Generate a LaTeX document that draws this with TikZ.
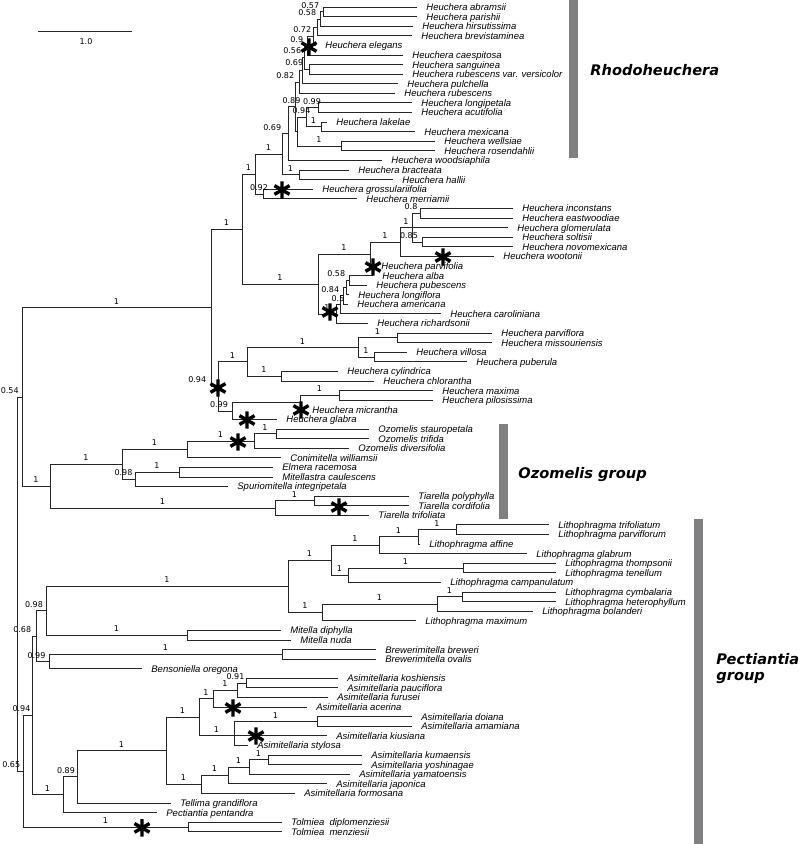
\documentclass[tikz,border=0pt]{standalone}
\usepackage{fontspec}
\setmainfont{Liberation Sans}
\newfontfamily\numfont{DejaVu Sans}[BoldFont={DejaVu Sans Bold}, ItalicFont={DejaVu Sans Oblique}, BoldItalicFont={DejaVu Sans Bold Oblique}]
\usetikzlibrary{calc}
\definecolor{bargray}{RGB}{128,128,130}
\newcommand\clade[4]{%
  \coordinate (cx) at (#2,0);
  \coordinate (cy) at ($(#3)!.5!(#4)$);
  \coordinate (#1) at (cx |- cy);}
\newcommand\leaf[4]{\node[leaf] (#1) at (#2,#3) {#4};}
\def\aster(#1){\draw[line width=3.4pt, black] (#1) ++(90:8.7pt) -- ++(270:17.4pt) (#1) ++(30:8.7pt) -- ++(210:17.4pt) (#1) ++(150:8.7pt) -- ++(330:17.4pt);}
\tikzset{
  leaf/.style={anchor=west, inner xsep=9pt, inner ysep=0pt, text height=0.95em, text depth=0.25em, font=\fontsize{9.5}{10}\selectfont\itshape},
  bs/.style={pos=.75, above, inner xsep=0.5pt, inner ysep=3pt, font=\numfont\fontsize{8}{9}\selectfont},
  bsl/.style={bs, pos=.5, anchor=south east},
  grp/.style={anchor=base west, inner sep=0pt, font=\numfont\fontsize{14.6}{17}\selectfont\bfseries\itshape}
}
\begin{document}
\begin{tikzpicture}[x=1pt, y=-9.59pt, shift={(0pt,-7pt)}, line width=0.8pt, draw=black!85]
\useasboundingbox (0,-0.73) rectangle (800,87.28);

%%%%% LEAVES %%%%%
\leaf{abramsii}{417}{0}{Heuchera abramsii}
\leaf{parishii}{417}{1}{Heuchera parishii}
\leaf{hirsutissima}{413}{2}{Heuchera hirsutissima}
\leaf{brevistaminea}{412}{3}{Heuchera brevistaminea}
\leaf{elegans}{316}{4}{Heuchera elegans}
\leaf{caespitosa}{403}{5}{Heuchera caespitosa}
\leaf{sanguinea}{403}{6}{Heuchera sanguinea}
\leaf{rubvar}{403}{7}{Heuchera rubescens var. versicolor}
\leaf{pulchella}{398}{8}{Heuchera pulchella}
\leaf{rubescens}{395}{9}{Heuchera rubescens}
\leaf{longipetala}{412}{10}{Heuchera longipetala}
\leaf{acutifolia}{412}{11}{Heuchera acutifolia}
\leaf{lakelae}{327}{12}{Heuchera lakelae}
\leaf{mexicana}{415}{13}{Heuchera mexicana}
\leaf{wellsiae}{435}{14}{Heuchera wellsiae}
\leaf{rosendahlii}{435}{15}{Heuchera rosendahlii}
\leaf{woodsiaphila}{382}{16}{Heuchera woodsiaphila}
\leaf{bracteata}{349}{17}{Heuchera bracteata}
\leaf{hallii}{393}{18}{Heuchera hallii}
\leaf{grossulariifolia}{313}{19}{Heuchera grossulariifolia}
\leaf{merriamii}{357}{20}{Heuchera merriamii}
\leaf{inconstans}{513}{21}{Heuchera inconstans}
\leaf{eastwoodiae}{513}{22}{Heuchera eastwoodiae}
\leaf{glomerulata}{508}{23}{Heuchera glomerulata}
\leaf{soltisii}{513}{24}{Heuchera soltisii}
\leaf{novomexicana}{513}{25}{Heuchera novomexicana}
\leaf{wootonii}{494}{26}{Heuchera wootonii}
\leaf{parvifolia}{372}{27}{Heuchera parvifolia}
\leaf{alba}{373}{28}{Heuchera alba}
\leaf{pubescens}{367}{29}{Heuchera pubescens}
\leaf{longiflora}{349}{30}{Heuchera longiflora}
\leaf{americana}{348}{31}{Heuchera americana}
\leaf{caroliniana}{441}{32}{Heuchera caroliniana}
\leaf{richardsonii}{368}{33}{Heuchera richardsonii}
\leaf{parviflora}{492}{34}{Heuchera parviflora}
\leaf{missouriensis}{492}{35}{Heuchera missouriensis}
\leaf{villosa}{407}{36}{Heuchera villosa}
\leaf{puberula}{467}{37}{Heuchera puberula}
\leaf{cylindrica}{338}{38}{Heuchera cylindrica}
\leaf{chlorantha}{374}{39}{Heuchera chlorantha}
\leaf{maxima}{433}{40}{Heuchera maxima}
\leaf{pilosissima}{433}{41}{Heuchera pilosissima}
\leaf{micrantha}{303}{42}{Heuchera micrantha}
\leaf{glabra}{277}{43}{Heuchera glabra}
\leaf{stauropetala}{369}{44}{Ozomelis stauropetala}
\leaf{trifida}{369}{45}{Ozomelis trifida}
\leaf{diversifolia}{349}{46}{Ozomelis diversifolia}
\leaf{conimitella}{281}{47}{Conimitella williamsii}
\leaf{elmera}{273}{48}{Elmera racemosa}
\leaf{mitellastra}{273}{49}{Mitellastra caulescens}
\leaf{spuriomitella}{228}{50}{Spuriomitella integripetala}
\leaf{polyphylla}{409}{51}{Tiarella polyphylla}
\leaf{cordifolia}{409}{52}{Tiarella cordifolia}
\leaf{ttrifoliata}{369}{53}{Tiarella trifoliata}
\leaf{ltrifoliatum}{549}{54}{Lithophragma trifoliatum}
\leaf{parviflorum}{549}{55}{Lithophragma parviflorum}
\leaf{affine}{420}{56}{Lithophragma affine}
\leaf{lglabrum}{527}{57}{Lithophragma glabrum}
\leaf{thompsonii}{556}{58}{Lithophragma thompsonii}
\leaf{tenellum}{556}{59}{Lithophragma tenellum}
\leaf{campanulatum}{441}{60}{Lithophragma campanulatum}
\leaf{cymbalaria}{556}{61}{Lithophragma cymbalaria}
\leaf{heterophyllum}{556}{62}{Lithophragma heterophyllum}
\leaf{bolanderi}{533}{63}{Lithophragma bolanderi}
\leaf{lmaximum}{416}{64}{Lithophragma maximum}
\leaf{diphylla}{281}{65}{Mitella diphylla}
\leaf{nuda}{291}{66}{Mitella nuda}
\leaf{breweri}{376}{67}{Brewerimitella breweri}
\leaf{ovalis}{376}{68}{Brewerimitella ovalis}
\leaf{bensoniella}{142}{69}{Bensoniella oregona}
\leaf{koshiensis}{338}{70}{Asimitellaria koshiensis}
\leaf{pauciflora}{338}{71}{Asimitellaria pauciflora}
\leaf{furusei}{328}{72}{Asimitellaria furusei}
\leaf{acerina}{307}{73}{Asimitellaria acerina}
\leaf{doiana}{412}{74}{Asimitellaria doiana}
\leaf{amamiana}{412}{75}{Asimitellaria amamiana}
\leaf{kiusiana}{327}{76}{Asimitellaria kiusiana}
\leaf{stylosa}{248}{77}{Asimitellaria stylosa}
\leaf{kumaensis}{362}{78}{Asimitellaria kumaensis}
\leaf{yoshinagae}{362}{79}{Asimitellaria yoshinagae}
\leaf{yamatoensis}{350}{80}{Asimitellaria yamatoensis}
\leaf{japonica}{327}{81}{Asimitellaria japonica}
\leaf{formosana}{295}{82}{Asimitellaria formosana}
\leaf{tellima}{171}{83}{Tellima grandiflora}
\leaf{pectiantia}{157}{84}{Pectiantia pentandra}
\leaf{tdiplo}{282}{85}{Tolmiea\ \ diplomenziesii}
\leaf{tmenz}{282}{86}{Tolmiea\ \ menziesii}

%%%%% CLADES %%%%%
\clade{A1}{323}{abramsii}{parishii}
\clade{A2}{320}{A1}{hirsutissima}
\clade{A3}{317}{A2}{brevistaminea}
\clade{A4}{313}{A3}{elegans}
\clade{A5}{307}{A4}{caespitosa}
\clade{B69}{309}{sanguinea}{rubvar}
\clade{A6}{304}{A5}{B69}
\clade{NY1}{302}{A6}{pulchella}
\clade{N82}{299}{NY1}{rubescens}
\clade{N99}{318}{longipetala}{acutifolia}
\clade{LM}{321}{lakelae}{mexicana}
\clade{N94}{306}{N99}{LM}
\clade{NW}{341}{wellsiae}{rosendahlii}
\clade{NZ}{297}{N94}{NW}
\clade{N89}{295}{N82}{NZ}
\clade{N69}{288}{N89}{woodsiaphila}
\clade{BH}{299}{bracteata}{hallii}
\clade{NRh}{282}{N69}{BH}
\clade{N92}{263}{grossulariifolia}{merriamii}
\clade{N255}{255}{NRh}{N92}
\clade{Q08}{420}{inconstans}{eastwoodiae}
\clade{Q85}{422}{soltisii}{novomexicana}
\clade{NR}{412}{Q08}{Q85}
\clade{N400}{400}{NR}{wootonii}
\clade{N370}{370}{N400}{parvifolia}
\clade{S1}{349}{alba}{pubescens}
\clade{S2}{346}{S1}{longiflora}
\clade{S3}{343}{S2}{americana}
\clade{S4}{340}{S3}{caroliniana}
\clade{S5}{336}{S4}{richardsonii}
\clade{N318}{318}{N370}{S5}
\clade{N242}{242}{N255}{N318}
\clade{PM}{397}{parviflora}{missouriensis}
\clade{VP}{374}{villosa}{puberula}
\clade{N358}{358}{PM}{VP}
\clade{CC}{281}{cylindrica}{chlorantha}
\clade{N247}{247}{N358}{CC}
\clade{MP}{339}{maxima}{pilosissima}
\clade{N300}{300}{MP}{micrantha}
\clade{N232}{232}{N300}{glabra}
\clade{N094}{218}{N247}{N232}
\clade{N211}{211}{N242}{N094}
\clade{O1}{276}{stauropetala}{trifida}
\clade{O2}{254}{O1}{diversifolia}
\clade{O3}{187}{O2}{conimitella}
\clade{E1}{179}{elmera}{mitellastra}
\clade{E2}{135}{E1}{spuriomitella}
\clade{O4}{122}{O3}{E2}
\clade{T1}{314}{polyphylla}{cordifolia}
\clade{T2}{275}{T1}{ttrifoliata}
\clade{OT}{50}{O4}{T2}
\clade{N54}{22}{N211}{OT}
\clade{L6}{456}{ltrifoliatum}{parviflorum}
\clade{L5}{418}{L6}{affine}
\clade{L3}{379}{L5}{lglabrum}
\clade{L7}{463}{thompsonii}{tenellum}
\clade{L4}{348}{L7}{campanulatum}
\clade{L1}{331}{L3}{L4}
\clade{L9}{462}{cymbalaria}{heterophyllum}
\clade{L8}{437}{L9}{bolanderi}
\clade{L2}{322}{L8}{lmaximum}
\clade{L0}{288}{L1}{L2}
\clade{MI}{187}{diphylla}{nuda}
\clade{N98}{46}{L0}{MI}
\clade{BR}{282}{breweri}{ovalis}
\clade{N99p}{49}{BR}{bensoniella}
\clade{N68}{36}{N98}{N99p}
\clade{AS1}{246}{koshiensis}{pauciflora}
\clade{AS2}{237}{AS1}{furusei}
\clade{AS3}{213}{AS2}{acerina}
\clade{AS4}{317}{doiana}{amamiana}
\clade{AS5}{234}{kiusiana}{kiusiana}
\clade{AS6}{199}{AS3}{AS5}
\clade{AS7}{268}{kumaensis}{yoshinagae}
\clade{AS8}{249}{AS7}{yamatoensis}
\clade{AS9}{228}{AS8}{japonica}
\clade{AS10}{201}{AS9}{formosana}
\clade{AS11}{166}{AS6}{AS10}
\clade{AS12}{77}{AS11}{tellima}
\clade{AS13}{63}{AS12}{pectiantia}
\clade{N94p}{32}{N68}{AS13}
\clade{TO}{188}{tdiplo}{tmenz}
\clade{N65}{23}{N94p}{TO}
\clade{ROOT}{17}{N54}{N65}

%%%%% BRANCHES TO LEAVES %%%%%
\foreach \p/\c in {A1/abramsii, A1/parishii, A2/hirsutissima, A3/brevistaminea, A4/elegans,
    A5/caespitosa, B69/sanguinea, B69/rubvar, NY1/pulchella, N82/rubescens, N99/longipetala,
    N99/acutifolia, LM/lakelae, LM/mexicana, NW/wellsiae, NW/rosendahlii, N69/woodsiaphila,
    BH/bracteata, BH/hallii, N92/grossulariifolia, N92/merriamii, Q08/inconstans,
    Q08/eastwoodiae, NR/glomerulata, Q85/soltisii, Q85/novomexicana, N400/wootonii,
    N370/parvifolia, S1/alba, S1/pubescens, S2/longiflora, S3/americana, S4/caroliniana,
    S5/richardsonii, PM/parviflora, PM/missouriensis, VP/villosa, VP/puberula, CC/cylindrica,
    CC/chlorantha, MP/maxima, MP/pilosissima, N300/micrantha, N232/glabra, O1/stauropetala,
    O1/trifida, O2/diversifolia, O3/conimitella, E1/elmera, E1/mitellastra, E2/spuriomitella,
    T1/polyphylla, T1/cordifolia, T2/ttrifoliata, L6/ltrifoliatum, L6/parviflorum, L5/affine,
    L3/lglabrum, L7/thompsonii, L7/tenellum, L4/campanulatum, L9/cymbalaria, L9/heterophyllum,
    L8/bolanderi, L2/lmaximum, MI/diphylla, MI/nuda, BR/breweri, BR/ovalis, N99p/bensoniella,
    AS1/koshiensis, AS1/pauciflora, AS2/furusei, AS3/acerina, AS4/doiana, AS4/amamiana,
    AS5/kiusiana, AS5/stylosa, AS7/kumaensis, AS7/yoshinagae, AS8/yamatoensis, AS9/japonica,
    AS10/formosana, AS12/tellima, AS13/pectiantia, TO/tdiplo, TO/tmenz}
  \draw (\p) |- (\c.west);

%%%%% INNER BRANCHES %%%%%
% Rhodoheuchera
\draw (A2) |- (A1) node[bsl] (sA1) {0.57};
\draw (A3) |- (A2) node[bsl] (sA2) {0.58};
\draw (A4) |- (A3);
\draw (A5) |- (A4) node[bsl, xshift=5pt] (sA4) {0.72};
\draw (A6) |- (A5) node[bsl] (sA5) {0.9};
\draw (A6) |- (B69) node[bsl] (sB69) {0.69};
\draw (NY1) |- (A6) node[bsl] (sA6) {0.56};
\draw (N82) |- (NY1);
\draw (N89) |- (N82) node[bsl] (sN82) {0.82};
\draw (N94) |- (N99) node[bs] (sN99) {0.99};
\draw (N94) |- (LM) node[bs] (sLM) {1};
\draw (NZ) |- (N94) node[bs] (sN94) {0.94};
\draw (NZ) |- (NW) node[bs] (sNW) {1};
\draw (N89) |- (NZ);
\draw (N69) |- (N89) node[bs] (sN89) {0.89};
\draw (NRh) |- (N69) node[bsl] (sN69) {0.69};
\draw (NRh) |- (BH) node[bs] (sBH) {1};
\draw (N255) |- (NRh) node[bs] (sNRh) {1};
\draw (N255) |- (N92) node[bs] (sN92) {0.92};
\draw (N242) |- (N255) node[bs] (sN255) {1};
% parvifolia and americana clades
\draw (NR) |- (Q08) node[bs, xshift=-5pt] (sQ08) {0.8};
\draw (NR) |- (Q85) node[bs, xshift=-8pt] (sQ85) {0.85};
\draw (N400) |- (NR) node[bs] (sNR) {1};
\draw (N370) |- (N400) node[bs] (sN400) {1};
\draw (N318) |- (N370) node[bs] (sN370) {1};
\draw (S2) |- (S1) node[bsl] (sS1) {0.58};
\draw (S3) |- (S2);
\draw (S4) |- (S3) node[bsl] (sS3) {0.84};
\draw (S5) |- (S4) node[bs] (sS4) {0.5};
\draw (N318) |- (S5) node[bs] (sS5) {1};
\draw (N242) |- (N318) node[bs] (sN318) {1};
% micrantha clade
\draw (N358) |- (PM) node[bs] (sPM) {1};
\draw (N358) |- (VP) node[bs] (sVP) {1};
\draw (N247) |- (N358) node[bs] (sN358) {1};
\draw (N247) |- (CC) node[bs] (sCC) {1};
\draw (N300) |- (MP) node[bs] (sMP) {1};
\draw (N232) |- (N300);
\draw (N094) |- (N247) node[bs] (sN247) {1};
\draw (N094) |- (N232) node[bs, xshift=-6pt] (sN232) {0.99};
\draw (N211) |- (N242) node[bs] (sN242) {1};
\draw (N211) |- (N094) node[bsl, xshift=-4pt] (sN094) {0.94};
% Ozomelis group
\draw (O2) |- (O1) node[bs] (sO1) {1};
\draw (O3) |- (O2) node[bs] (sO2) {1};
\draw (O4) |- (O3) node[bs] (sO3) {1};
\draw (E2) |- (E1) node[bs] (sE1) {1};
\draw (O4) |- (E2) node[bs, xshift=-5pt] (sE2) {0.98};
\draw (T2) |- (T1) node[bs] (sT1) {1};
\draw (OT) |- (O4) node[bs] (sO4) {1};
\draw (OT) |- (T2) node[bs] (sT2) {1};
\draw (N54) |- (N211) node[bs] (sN211) {1};
\draw (N54) |- (OT) node[bs] (sOT) {1};
% Pectiantia group
\draw (L5) |- (L6) node[bs] (sL6) {1};
\draw (L3) |- (L5) node[bs] (sL5) {1};
\draw (L1) |- (L3) node[bs] (sL3) {1};
\draw (L4) |- (L7) node[bs] (sL7) {1};
\draw (L1) |- (L4) node[bs] (sL4) {1};
\draw (L8) |- (L9) node[bs] (sL9) {1};
\draw (L2) |- (L8) node[bs] (sL8) {1};
\draw (L0) |- (L1) node[bs] (sL1) {1};
\draw (L0) |- (L2) node[bs] (sL2) {1};
\draw (N98) |- (L0) node[bs] (sL0) {1};
\draw (N98) |- (MI) node[bs] (sMI) {1};
\draw (N99p) |- (BR) node[bs] (sBR) {1};
\draw (N68) |- (N98) node[bs, xshift=-7pt] (sN98) {0.98};
\draw (N68) |- (N99p) node[bs, xshift=-6pt] (sN99p) {0.99};
\draw (AS2) |- (AS1) node[bs, xshift=-6pt] (sAS1) {0.91};
\draw (AS3) |- (AS2) node[bs] (sAS2) {1};
\draw (AS6) |- (AS3) node[bs] (sAS3) {1};
\draw (AS5) |- (AS4) node[bs] (sAS4) {1};
\draw (AS6) |- (AS5) node[bs] (sAS5) {1};
\draw (AS8) |- (AS7) node[bs] (sAS7) {1};
\draw (AS9) |- (AS8) node[bs] (sAS8) {1};
\draw (AS10) |- (AS9) node[bs] (sAS9) {1};
\draw (AS11) |- (AS6) node[bs] (sAS6) {1};
\draw (AS11) |- (AS10) node[bs] (sAS10) {1};
\draw (AS12) |- (AS11) node[bs] (sAS11) {1};
\draw (AS13) |- (AS12) node[bs, xshift=-4pt] (sAS12) {0.89};
\draw (N94p) |- (N68) node[bsl] (sN68) {0.68};
\draw (N94p) |- (AS13) node[bs] (sAS13) {1};
\draw (N65) |- (N94p) node[bs, xshift=-6pt] (sN94p) {0.94};
\draw (N65) |- (TO) node[bs] (sTO) {1};
% root
\draw (ROOT) |- (N54) node[bsl, xshift=2.5pt] (sN54) {0.54};
\draw (ROOT) |- (N65) node[bsl, xshift=4pt] (sN65) {0.65};

%%%%% ASTERISKS %%%%%
\aster(309,4.17)
\aster(282,19.08)
\aster(443,26.07)
\aster(373,27.11)
\aster(330,31.8)
\aster(218,39.73)
\aster(301,42.02)
\aster(247,43.07)
\aster(238,45.36)
\aster(339,52.14)
\aster(233,73.1)
\aster(256,76.02)
\aster(142,85.6)

%%%%% SCALE AND GROUPS %%%%%
\coordinate (sb1) at (38,2.5);
\coordinate (sb2) at (132,2.5);
\draw (sb1) -- (sb2);
\node[font=\numfont\fontsize{8}{9}\selectfont] (sblabel) at (86,3.65) {1.0};

\fill[bargray] (569,-0.73) rectangle (578,15.75);
\fill[bargray] (499,43.48) rectangle (508,53.39);
\fill[bargray] (694,53.39) rectangle (703,87.28);
\node[grp] (rhodo) at (590,7.12) {Rhodoheuchera};
\node[grp] (ozo) at (518,49.15) {Ozomelis group};
\node[grp] (pect) at (716,68.54) {Pectiantia};
\node[grp] (pectgrp) at (716,70.28) {group};
\end{tikzpicture}
\end{document}
